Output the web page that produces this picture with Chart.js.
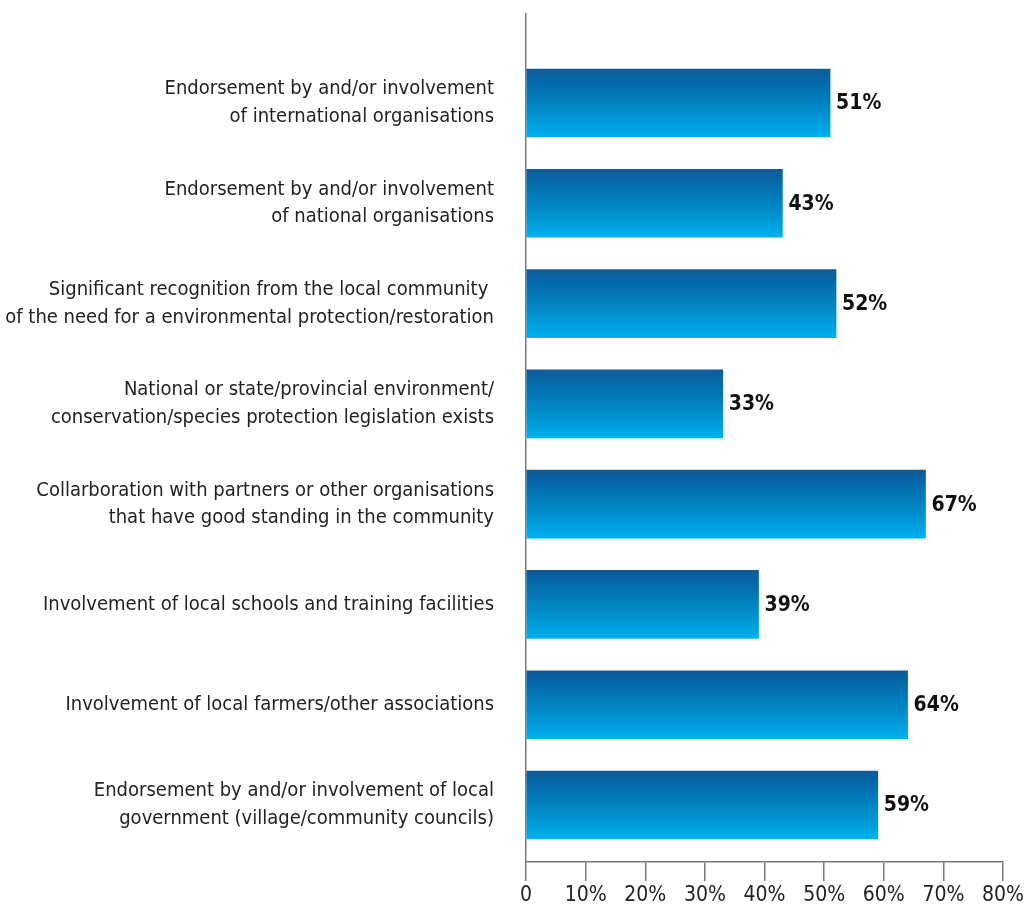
<!DOCTYPE html>
<html lang="en">
<head>
    <meta charset="UTF-8">
    <title>Success factors</title>
    <script src="https://cdn.jsdelivr.net/npm/chart.js"></script>
    <style>
        html, body { margin: 0; padding: 0; background: #fff; }
        .chart-container { width: 1033px; height: 910px; }
    </style>
</head>
<body>
    <div class="chart-container">
        <canvas id="factorsChart"></canvas>
    </div>

    <script>
        const categories = [
            ["Endorsement by and/or involvement", "of international organisations"],
            ["Endorsement by and/or involvement", "of national organisations"],
            ["Significant recognition from the local community ", "of the need for a environmental protection/restoration"],
            ["National or state/provincial environment/", "conservation/species protection legislation exists"],
            ["Collarboration with partners or other organisations", "that have good standing in the community"],
            ["Involvement of local schools and training facilities"],
            ["Involvement of local farmers/other associations"],
            ["Endorsement by and/or involvement of local", "government (village/community councils)"]
        ];
        const values = [51, 43, 52, 33, 67, 39, 64, 59];
        const xTicks = [0, 10, 20, 30, 40, 50, 60, 70, 80];

        const FONT = "'Liberation Sans Narrow', 'DejaVu Sans Condensed', 'Roboto', sans-serif";
        const AXIS_GRAY = "#7a7a7a";
        const BAR_H = 68;

        // value labels at the end of each bar
        const valueLabels = {
            id: "valueLabels",
            afterDatasetsDraw(chart) {
                const ctx = chart.ctx;
                const meta = chart.getDatasetMeta(0);
                ctx.save();
                ctx.font = "bold 21px " + FONT;
                ctx.fillStyle = "#111";
                ctx.textAlign = "left";
                ctx.textBaseline = "middle";
                meta.data.forEach((bar, i) => {
                    ctx.fillText(values[i] + "%", bar.x + 6, bar.y + 1);
                });
                ctx.restore();
            }
        };

        // vertical dark-blue to cyan gradient on every bar
        function barGradient(context) {
            const chart = context.chart;
            const yScale = chart.scales.y;
            if (!chart.chartArea || !yScale || context.dataIndex === undefined) return "#0380c0";
            const mid = yScale.getPixelForValue(context.dataIndex);
            const g = chart.ctx.createLinearGradient(0, mid - BAR_H / 2, 0, mid + BAR_H / 2);
            g.addColorStop(0, "#135a98");
            g.addColorStop(0.15, "#0466a6");
            g.addColorStop(0.6, "#018bc9");
            g.addColorStop(1, "#00b0ee");
            return g;
        }

        function noPad(scale) {
            scale.paddingTop = 0;
            scale.paddingBottom = 0;
            scale.paddingLeft = 0;
            scale.paddingRight = 0;
        }

        Chart.defaults.font.family = FONT;
        Chart.defaults.color = "#222";

        new Chart(document.getElementById("factorsChart"), {
            type: "bar",
            data: {
                datasets: [{
                    data: values.map((v, i) => ({ x: v, y: i })),
                    backgroundColor: barGradient,
                    borderWidth: 0,
                    barThickness: BAR_H
                }]
            },
            options: {
                indexAxis: "y",
                responsive: true,
                maintainAspectRatio: false,
                animation: false,
                layout: { padding: { top: 14, right: 30, bottom: 0, left: 0 } },
                plugins: {
                    legend: { display: false },
                    tooltip: { enabled: false }
                },
                scales: {
                    x: {
                        type: "linear",
                        min: 0,
                        max: 80,
                        afterBuildTicks: scale => { scale.ticks = xTicks.map(v => ({ value: v })); },
                        afterFit: scale => { scale.height = 48; noPad(scale); },
                        border: { display: true, color: AXIS_GRAY, width: 1.5 },
                        grid: {
                            drawOnChartArea: false,
                            drawTicks: true,
                            tickLength: 19,
                            tickColor: AXIS_GRAY,
                            lineWidth: 1.5
                        },
                        ticks: {
                            padding: 2,
                            maxRotation: 0,
                            font: { size: 21 },
                            color: "#222",
                            callback: v => v === 0 ? "0" : v + "%"
                        }
                    },
                    y: {
                        type: "linear",
                        reverse: true,
                        offset: false,
                        min: -0.887,
                        max: 7.568,
                        afterBuildTicks: scale => { scale.ticks = categories.map((c, i) => ({ value: i })); },
                        afterFit: scale => { scale.width = 526; noPad(scale); },
                        border: { display: true, color: AXIS_GRAY, width: 1.5 },
                        grid: { display: false, drawTicks: false },
                        ticks: {
                            padding: 32,
                            font: { size: 20, lineHeight: 1.38 },
                            color: "#222",
                            callback: v => categories[v]
                        }
                    }
                }
            },
            plugins: [valueLabels]
        });
    </script>
</body>
</html>
